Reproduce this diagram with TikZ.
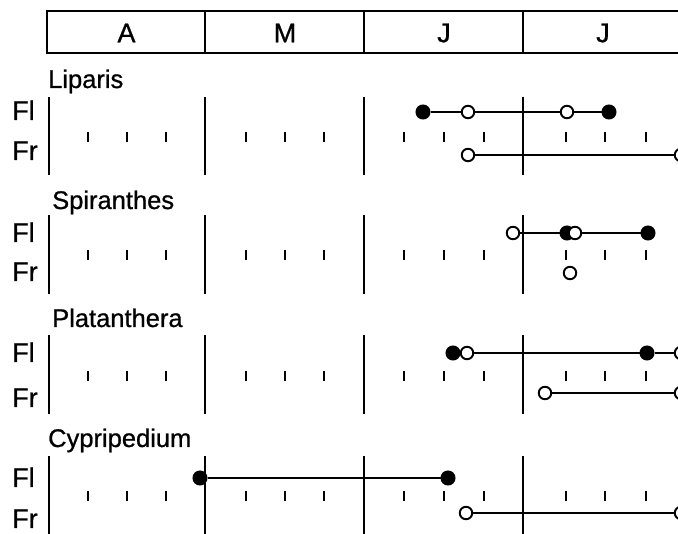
\documentclass[tikz,border=0pt]{standalone}
\usepackage{fontspec}
\setmainfont{Liberation Sans}
\newfontfamily\lblfont[FakeBold=0.8]{Liberation Sans}
\begin{document}
\begin{tikzpicture}[x=1pt,y=-1pt,
  lbl/.style={font=\lblfont\fontsize{25.5}{25.5}\selectfont, inner sep=0pt, anchor=base west},
  flbl/.style={font=\lblfont\fontsize{27}{27}\selectfont, inner sep=0pt, anchor=base west},
  mon/.style={font=\lblfont\fontsize{27}{27}\selectfont, inner sep=0pt},
  fdot/.style={circle, fill=black, draw=black, line width=1pt, inner sep=0pt, minimum size=14pt},
  odot/.style={circle, fill=white, draw=black, line width=1.9pt, inner sep=0pt, minimum size=12.5pt},
  conn/.style={line width=2.2pt},
  frame/.style={line width=2.2pt},
  tickmark/.style={line width=2pt},
]
\useasboundingbox (0,0) rectangle (678,534);
% header
\draw[frame] (690,11) -- (47,11) -- (47,53) -- (690,53);
\foreach \x in {205,364,523} \draw[frame] (\x,11) -- (\x,53);
\node[mon] (hA) at (126.5,33) {A};
\node[mon] (hM) at (285,33) {M};
\node[mon] (hJa) at (444,33) {J};
\node[mon] (hJb) at (603,33) {J};
% row skeletons: top, bottom, tick y
\foreach \t/\b/\k in {97/175/137, 215/294/255, 335/414/376, 456/536/496}{
  \foreach \x in {49,205,364,523} \draw[frame] (\x,\t) -- (\x,\b);
  \foreach \x in {88,127,166,246,285,324,404,444,484,566,605,646}
    \draw[tickmark] (\x,\k-5) -- (\x,\k+5);
}
% labels
\node[lbl] (nLip) at (48,88) {Liparis};
\node[lbl] (nSpi) at (52,209) {Spiranthes};
\node[lbl] (nPla) at (52,327) {Platanthera};
\node[lbl] (nCyp) at (48,447) {Cypripedium};
\foreach \n/\a/\b in {L/120/160, S/242/281, P/362/407, C/487/528}{
  \node[flbl] (fl\n) at (12,\a) {Fl};
  \node[flbl] (fr\n) at (12,\b) {Fr};
}
% Liparis
\node[fdot] (la1) at (423,112) {};
\node[odot] (la2) at (468,112) {};
\node[odot] (la3) at (567,112) {};
\node[fdot] (la4) at (609,112) {};
\draw[conn] (la1) -- (la2); \draw[conn] (la2) -- (la3); \draw[conn] (la3) -- (la4);
\node[odot] (lb1) at (468,155) {};
\node[odot] (lb2) at (681,155) {};
\draw[conn] (lb1) -- (lb2);
% Spiranthes
\node[odot] (sa1) at (513,233) {};
\node[fdot] (sa2) at (567,233) {};
\node[odot] (sa3) at (575,233) {};
\node[fdot] (sa4) at (648,233) {};
\draw[conn] (sa1) -- (sa2); \draw[conn] (sa3) -- (sa4);
\node[odot] (sb1) at (570,273) {};
% Platanthera
\node[fdot] (pa1) at (453,353) {};
\node[odot] (pa2) at (467,353) {};
\node[fdot] (pa3) at (647,353) {};
\node[odot] (pa4) at (681,353) {};
\draw[conn] (pa2) -- (pa3); \draw[conn] (pa3) -- (pa4);
\node[odot] (pb1) at (545,393) {};
\node[odot] (pb2) at (681,393) {};
\draw[conn] (pb1) -- (pb2);
% Cypripedium
\node[fdot] (ca1) at (200,478) {};
\node[fdot] (ca2) at (448,478) {};
\draw[conn] (ca1) -- (ca2);
\node[odot] (cb1) at (466,513) {};
\node[odot] (cb2) at (681,513) {};
\draw[conn] (cb1) -- (cb2);
\end{tikzpicture}
\end{document}
